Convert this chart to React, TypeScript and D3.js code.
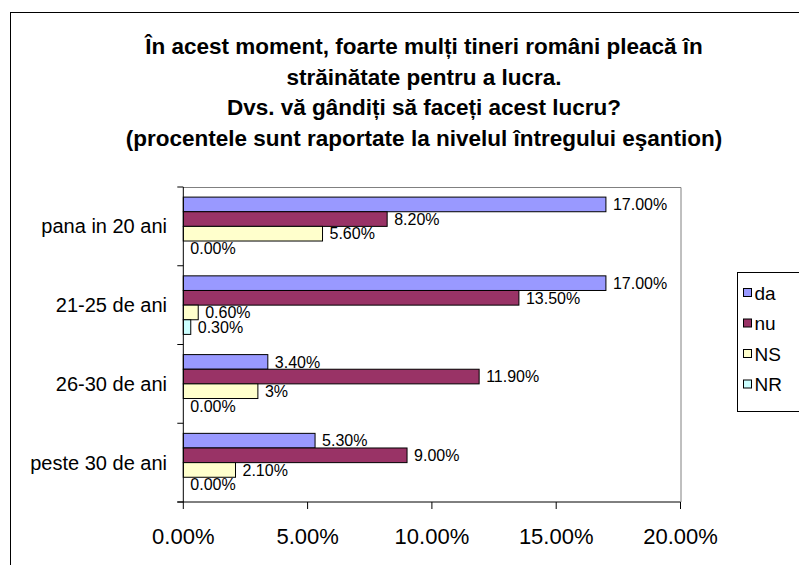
import * as d3 from "d3";

const categories = ["pana in 20 ani", "21-25 de ani", "26-30 de ani", "peste 30 de ani"];
const seriesNames = ["da", "nu", "NS", "NR"];
const daValues = [17.0, 17.0, 3.4, 5.3];
const nuValues = [8.2, 13.5, 11.9, 9.0];
const nsValues = [5.6, 0.6, 3.0, 2.1];
const nrValues = [0.0, 0.3, 0.0, 0.0];
const xTicks = [0, 5, 10, 15, 20];
// Excel printed this one cell with no decimals
const labelOverrides: Record<string, string> = { "26-30 de ani|NS": "3%" };

const titleLines = [
  "În acest moment, foarte mulți tineri români pleacă în",
  "străinătate pentru a lucra.",
  "Dvs. vă gândiți să faceți acest lucru?",
  "(procentele sunt raportate la nivelul întregului eşantion)",
];

const colors = ["#9999FF", "#993366", "#FFFFCC", "#CCFFFF"];
const font = "'Liberation Sans', Arial, sans-serif";

export default function App() {
  const width = 799;
  const height = 565;
  const plot = { left: 183.3, right: 680.5, top: 187, bottom: 502 };

  const series = [daValues, nuValues, nsValues, nrValues];

  const x = d3.scaleLinear().domain([0, 20]).range([plot.left, plot.right]);
  const y = d3.scaleBand<string>().domain(categories).range([plot.top, plot.bottom]).padding(0);
  const ys = d3
    .scaleBand<string>()
    .domain(seriesNames)
    .range([0, y.bandwidth()])
    .paddingInner(0)
    .paddingOuter(0.69);

  const fmt = (v: number) => d3.format(".2f")(v) + "%";

  return (
    <svg width={width} height={height} style={{ position: "absolute", left: 0, top: 0, background: "#fff" }}>
      <rect x={10.5} y={12.5} width={900} height={600} fill="#fff" stroke="#000" />

      {titleLines.map((t, i) => (
        <text
          key={i}
          x={424}
          y={54 + i * 30.7}
          textAnchor="middle"
          fontFamily={font}
          fontWeight="bold"
          fontSize={22.5}
          fill="#000"
        >
          {t}
        </text>
      ))}

      {/* plot area border: grey top and right */}
      <path
        d={`M${plot.left},${plot.top + 0.5}H${plot.right + 0.5}V${plot.bottom}`}
        fill="none"
        stroke="#808080"
      />

      {categories.map((c, ci) =>
        series.map((vals, si) => {
          const v = vals[ci];
          const by = (y(c) as number) + (ys(seriesNames[si]) as number);
          const bh = ys.bandwidth();
          const label = labelOverrides[`${c}|${seriesNames[si]}`] ?? fmt(v);
          return (
            <g key={`${ci}-${si}`}>
              {v > 0 && (
                <rect
                  x={x(0)}
                  y={by}
                  width={x(v) - x(0)}
                  height={bh}
                  fill={colors[si]}
                  stroke="#000"
                  strokeWidth={1}
                />
              )}
              <text
                x={x(v) + 7}
                y={by + bh / 2}
                dy="0.36em"
                fontFamily={font}
                fontSize={16}
                fill="#000"
              >
                {label}
              </text>
            </g>
          );
        })
      )}

      {/* y axis */}
      <line x1={plot.left} x2={plot.left} y1={plot.top} y2={plot.bottom} stroke="#000" />
      {[...categories.map((c) => y(c) as number), plot.bottom].map((t, i) => (
        <line key={i} x1={plot.left - 6} x2={plot.left} y1={t} y2={t} stroke="#000" />
      ))}
      {categories.map((c) => (
        <text
          key={c}
          x={167}
          y={(y(c) as number) + y.bandwidth() / 2}
          dy="0.35em"
          textAnchor="end"
          fontFamily={font}
          fontSize={20}
          fill="#000"
        >
          {c}
        </text>
      ))}

      {/* x axis */}
      <line x1={plot.left - 6} x2={plot.right} y1={plot.bottom} y2={plot.bottom} stroke="#000" />
      {xTicks.map((t) => (
        <g key={t}>
          <line x1={x(t)} x2={x(t)} y1={plot.bottom} y2={plot.bottom + 7} stroke="#000" />
          <text x={x(t)} y={544} textAnchor="middle" fontFamily={font} fontSize={22} fill="#000">
            {d3.format(".2f")(t) + "%"}
          </text>
        </g>
      ))}

      {/* legend */}
      <rect x={737.5} y={272.5} width={100} height={139} fill="#fff" stroke="#000" />
      {seriesNames.map((s, i) => (
        <g key={s} transform={`translate(743.5,${293 + i * 30.5})`}>
          <rect x={0} y={-4.5} width={8} height={8} fill={colors[i]} stroke="#000" />
          <text x={11} y={0} dy="0.35em" fontFamily={font} fontSize={19} fill="#000">
            {s}
          </text>
        </g>
      ))}
    </svg>
  );
}
